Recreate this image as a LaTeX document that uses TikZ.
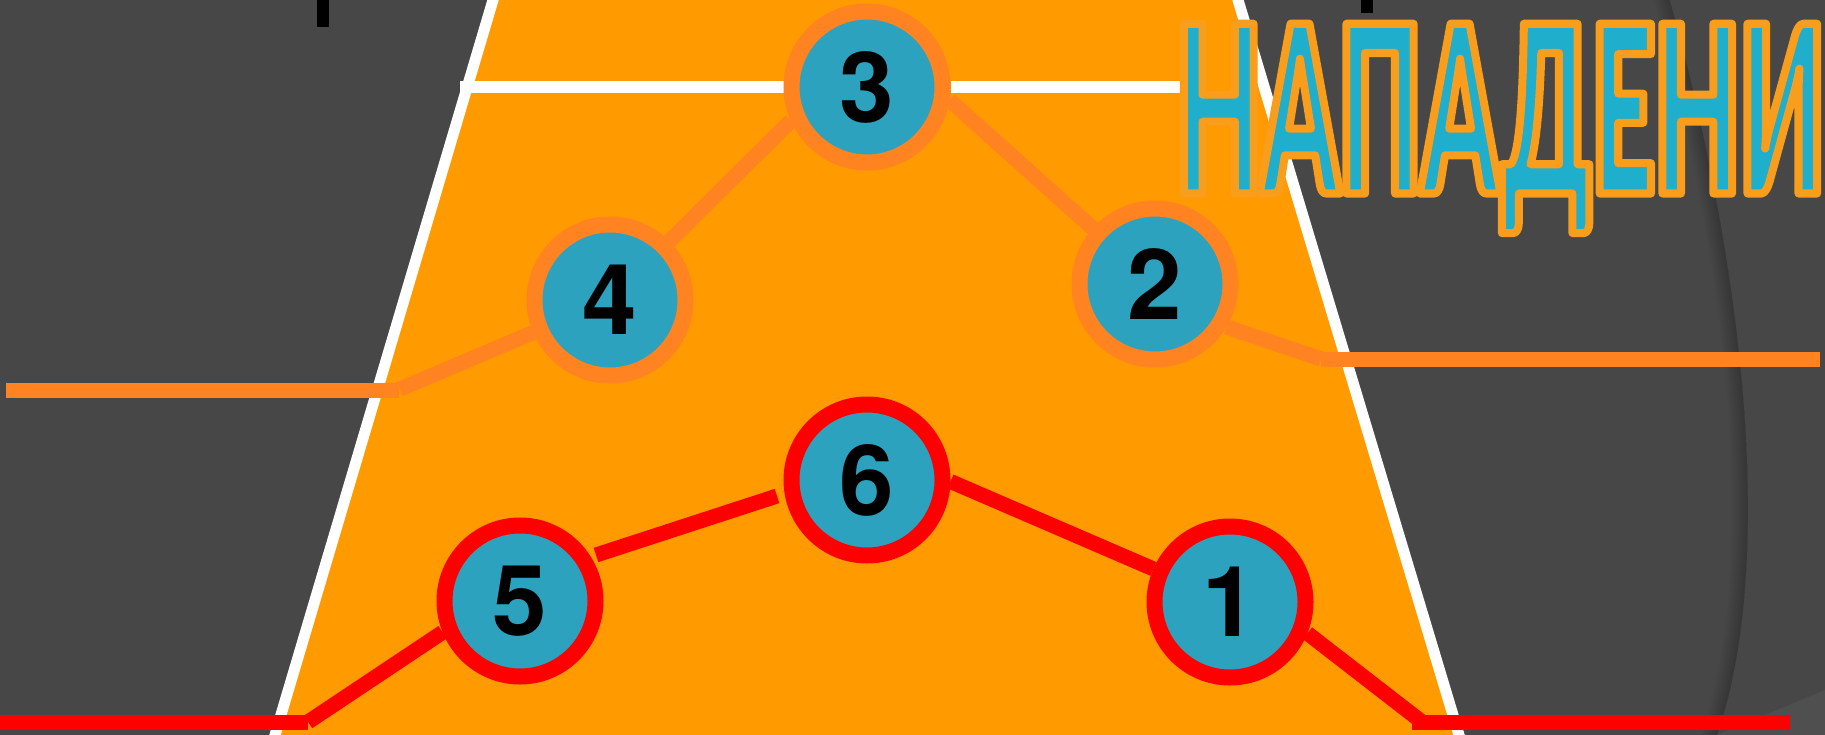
\documentclass[tikz,border=0pt]{standalone}
\usepackage{fontspec}
\setmainfont{Liberation Sans}
\newfontfamily\digitfont{TeX Gyre Heros}
\newfontfamily\titlefont{Lato Black}[FakeStretch=0.47]
\definecolor{bggray}{RGB}{71,71,71}
\definecolor{bglight}{RGB}{79,79,79}
\definecolor{trapor}{RGB}{255,154,0}
\definecolor{tealfill}{RGB}{44,162,191}
\definecolor{lineor}{RGB}{255,131,32}
\definecolor{titlecyan}{RGB}{31,174,203}
\pgfdeclarelayer{back}
\pgfdeclarelayer{links}
\pgfsetlayers{back,links,main}
\newcommand{\outlinedtitle}[1]{\color{titlecyan}\special{pdf:literal direct 0.976 0.616 0.110 RG 8 w 1 j 2 Tr}#1\special{pdf:literal direct 0 Tr}}
\begin{document}
\begin{tikzpicture}[x=1pt,y=-1pt,
  nodebase/.style={circle,minimum size=151pt,inner sep=0pt,outer sep=8pt,line width=16pt,fill=tealfill,text=black,font=\digitfont\fontsize{98}{98}\selectfont\bfseries},
  ornode/.style={nodebase,draw=lineor},
  rdnode/.style={nodebase,draw=red},
  orlink/.style={draw=lineor,line width=15pt},
  rdlink/.style={draw=red,line width=15pt},
  whiteline/.style={draw=white,line width=11pt},
  blackmark/.style={fill=black}]
\useasboundingbox (0,0) rectangle (1825,735);
% nodes
\node[ornode] (n3) at (867,87) {3};
\node[ornode] (n4) at (610,300) {4};
\node[ornode] (n2) at (1155,284) {2};
\node[rdnode] (n6) at (867,480) {6};
\node[rdnode] (n5) at (520,601) {5};
\node[rdnode] (n1) at (1230,602) {1};
% background
\begin{pgfonlayer}{back}
\fill[bggray] (0,0) rectangle (1825,735);
\fill[bglight] (1825,690) -- (1717,735) -- (1825,735) -- cycle;
\foreach \i in {1,...,8}{
  \draw[black,opacity=0.022,line width=2*\i pt,xshift=-\i pt] (1668,-5) .. controls (1740,250) and (1780,560) .. (1715,740);
}
\fill[trapor] (494.5,-5) -- (1236.5,-5) -- (1460.5,740) -- (273.5,740) -- cycle;
\draw[whiteline] (494.5,-5) -- (273.5,740);
\draw[whiteline] (1236.5,-5) -- (1460.5,740);
\fill[blackmark] (317,-1) rectangle (329,27);
\fill[blackmark] (1361,-1) rectangle (1373,13);
\end{pgfonlayer}
% connectors
\begin{pgfonlayer}{links}
\coordinate (wl) at (460,87);
\coordinate (wr) at (1190,87);
\draw[whiteline,line width=12pt] (wl) -- (n3);
\draw[whiteline,line width=12pt] (n3) -- (wr);
\coordinate (ol) at (6,390);
\coordinate (olk) at (399,390);
\coordinate (olj) at (400,389);
\coordinate (orj) at (1321,359);
\coordinate (ork) at (1320.5,359.5);
\coordinate (orr) at (1820,359.5);
\draw[orlink] (ol) -- (olk);
\draw[orlink] (olj) -- (n4);
\draw[orlink] (n4) -- (n3.204);
\draw[orlink] (n2) -- (n3.-9);
\draw[orlink] (n2.-31) -- (orj);
\draw[orlink] (ork) -- (orr);
\coordinate (rl) at (0,722.5);
\coordinate (rlk) at (308,722.5);
\coordinate (rlj) at (308,722);
\coordinate (rma) at (596,555);
\coordinate (rmb) at (777,496);
\coordinate (rrj) at (1422,722);
\coordinate (rrk) at (1412,722.5);
\coordinate (rr) at (1790,722.5);
\draw[rdlink] (rl) -- (rlk);
\draw[rdlink] (rlj) -- (n5.202);
\draw[rdlink] (rma) -- (rmb);
\draw[rdlink] (n1) -- (n6.-1);
\draw[rdlink] (n1.-22) -- (rrj);
\draw[rdlink] (rrk) -- (rr);
\end{pgfonlayer}
% title
\begin{scope}
\clip (0,0) rectangle (1825,735);
\node[anchor=base west,inner sep=0pt,font=\titlefont\fontsize{233}{233}\selectfont] (title) at (1176,193.5) {\outlinedtitle{НАПАДЕНИЕ}};
\end{scope}
\end{tikzpicture}
\end{document}
